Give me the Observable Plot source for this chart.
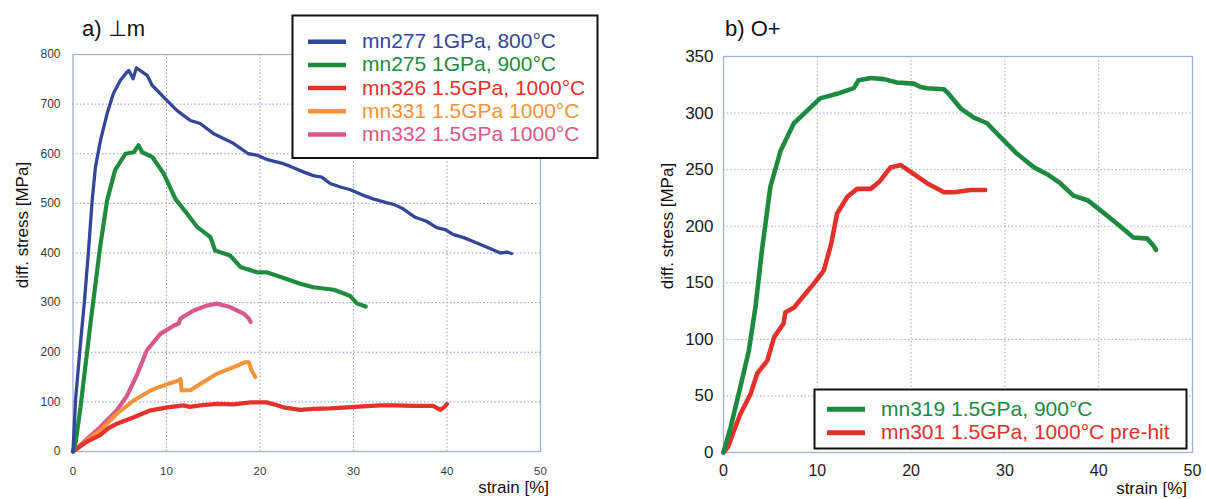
<!DOCTYPE html>
<html><head><meta charset="utf-8">
<script src="https://cdn.jsdelivr.net/npm/d3@7"></script>
<script src="https://cdn.jsdelivr.net/npm/@observablehq/plot@0.6"></script>
<style>
html,body{margin:0;padding:0;background:#fff;}
#wrap{position:relative;width:1206px;height:499px;overflow:hidden;font-family:"Liberation Sans",Arial,sans-serif;}
#wrap > svg{position:absolute;top:0;}
</style></head><body><div id="wrap"></div>
<script>
// ---------- data: panel a) ----------
const xTicksA = [0, 10, 20, 30, 40, 50];
const yTicksA = [0, 100, 200, 300, 400, 500, 600, 700, 800];

const mn277Strain = [0, 0.27, 0.8, 1.23, 1.66, 2.05, 2.4, 2.94, 3.65, 4.33, 5.07, 5.79, 5.96, 6.43, 6.78, 7.93, 8.46, 9.7, 11.13, 12.55, 13.6, 15.0, 17.15, 18.75, 19.7, 20.8, 22.5, 23.2, 24.7, 25.7, 26.6, 27.5, 28.6, 29.6, 31.1, 32.1, 33.6, 34.3, 35.3, 36.6, 37.8, 38.9, 39.8, 40.7, 41.8, 43.2, 44.6, 45.7, 46.4, 46.9];
const mn277Stress = [0, 103, 218, 304, 405, 506, 573, 627, 681, 722, 748, 765, 768, 751, 773, 758, 738, 714, 687, 667, 661, 641, 621, 600, 597, 588, 580, 575, 563, 556, 553, 540, 533, 528, 516, 509, 501, 498, 489, 472, 464, 451, 447, 437, 431, 420, 409, 400, 402, 399];

const mn275Strain = [0, 0.3, 0.8, 1.87, 2.9, 3.65, 4.5, 5.6, 6.5, 7.0, 7.4, 8.5, 9.7, 10.95, 12.2, 13.3, 14.7, 15.2, 16.0, 16.8, 17.9, 19.7, 20.7, 22.3, 24.3, 25.7, 27.9, 29.6, 30.4, 31.3];
const mn275Stress = [0, 20, 89, 258, 412, 506, 567, 600, 603, 617, 603, 593, 560, 509, 479, 452, 432, 405, 400, 395, 372, 361, 361, 351, 338, 331, 326, 314, 298, 292];

const mn326Strain = [0, 1.5, 2.9, 3.8, 4.7, 6.5, 8.3, 10.1, 11.8, 12.5, 13.6, 15.4, 17.2, 19.0, 20.7, 21.5, 22.5, 24.3, 25.7, 27.5, 29.3, 31.0, 32.9, 34.5, 36.4, 38.5, 39.3, 39.8, 40.0];
const mn326Stress = [0, 20, 33, 47, 56, 69, 83, 89, 93, 90, 93, 96, 95, 99, 99, 95, 89, 84, 86, 87, 89, 91, 93, 93, 92, 92, 84, 91, 96];

const mn331Strain = [0, 1.5, 2.9, 4.7, 6.5, 8.3, 10.1, 11.3, 11.5, 11.6, 12.6, 13.6, 15.4, 17.2, 18.4, 18.8, 19.1, 19.5];
const mn331Stress = [0, 22, 42, 76, 103, 123, 136, 143, 146, 123, 124, 136, 157, 170, 180, 180, 163, 150];

const mn332Strain = [0, 1.5, 2.9, 4.7, 5.8, 6.9, 7.9, 9.35, 10.8, 11.3, 11.5, 12.9, 14.3, 15.4, 16.8, 18.25, 18.8, 19.0];
const mn332Stress = [0, 25, 49, 83, 113, 157, 204, 237, 254, 258, 268, 284, 294, 298, 291, 278, 268, 261];

// ---------- data: panel b) ----------
const xTicksB = [0, 10, 20, 30, 40, 50];
const yTicksB = [0, 50, 100, 150, 200, 250, 300, 350];

const mn319Strain = [0, 0.75, 1.8, 2.7, 3.4, 4.1, 5.0, 6.1, 7.5, 8.9, 10.3, 12.1, 13.9, 14.4, 15.7, 17.1, 18.5, 20.3, 21.0, 21.7, 23.5, 23.9, 25.3, 26.7, 28.1, 29.5, 31.3, 33.1, 34.5, 35.9, 37.3, 38.8, 40.2, 42.0, 43.7, 45.2, 45.9, 46.1];
const mn319Stress = [0, 22, 58, 90, 128, 179, 235, 267, 291, 302, 313, 317, 322, 329, 331, 330, 327, 326, 323, 322, 321, 318, 304, 296, 291, 279, 264, 252, 246, 238, 227, 223, 214, 202, 190, 189, 182, 179];

const mn301Strain = [0, 0.5, 1.1, 1.8, 2.9, 3.6, 4.66, 5.4, 6.4, 6.6, 7.5, 8.6, 9.8, 10.7, 11.0, 11.5, 12.1, 13.2, 14.25, 15.7, 16.7, 17.8, 18.9, 20.3, 21.7, 23.5, 24.6, 26.3, 27.9];
const mn301Stress = [0, 5, 19, 34, 52, 70, 81, 102, 114, 124, 128, 139, 151, 161, 170, 185, 211, 226, 233, 233, 240, 252, 254, 246, 238, 230, 230, 232, 232];

const seriesA = ["mn277 1GPa, 800°C", "mn275 1GPa, 900°C", "mn326 1.5GPa, 1000°C", "mn331 1.5GPa 1000°C", "mn332 1.5GPa 1000°C"];
const seriesB = ["mn319 1.5GPa, 900°C", "mn301 1.5GPa, 1000°C pre-hit"];

// ---------- styling ----------
const FONT = '"Liberation Sans", Arial, sans-serif';
const colorsA = ["#33469b", "#1f8b3f", "#e4312b", "#f5923a", "#d9588b"];
const widthsA = [3.3, 4.2, 4.2, 4, 4.2];
const colorsB = ["#1e8a3f", "#e2302a"];
const GRID = "#8e96c6";
const FRAME = "#a7aed6";

const zip = (xs, ys) => xs.map((x, i) => ({strain: x, stress: ys[i]}));
const dataA = [zip(mn277Strain, mn277Stress), zip(mn275Strain, mn275Stress), zip(mn326Strain, mn326Stress), zip(mn331Strain, mn331Stress), zip(mn332Strain, mn332Stress)];
const dataB = [zip(mn319Strain, mn319Stress), zip(mn301Strain, mn301Stress)];

const wrap = document.getElementById("wrap");

const plotA = Plot.plot({
  width: 603, height: 499,
  marginLeft: 72.5, marginRight: 63, marginTop: 54, marginBottom: 48,
  x: {domain: [0, 50]},
  y: {domain: [0, 800]},
  style: {fontFamily: FONT, fontSize: "12px", color: "#3a3a3a", background: "transparent", overflow: "visible"},
  marks: [
    Plot.ruleX(xTicksA.slice(1, -1), {stroke: GRID, strokeDasharray: "1.5,2.2", strokeWidth: 1}),
    Plot.ruleY(yTicksA.slice(1, -1), {stroke: GRID, strokeDasharray: "1.5,2.2", strokeWidth: 1}),
    Plot.frame({stroke: FRAME, strokeWidth: 1.3}),
    Plot.axisX({ticks: xTicksA, tickSize: 0, tickPadding: 15, label: null, fontSize: 11.5}),
    Plot.axisY({ticks: yTicksA, tickSize: 0, tickPadding: 12.5, label: null, fontSize: 12}),
    ...[4, 3, 2, 1, 0].map(i => Plot.line(dataA[i], {x: "strain", y: "stress", stroke: colorsA[i], strokeWidth: widthsA[i], strokeLinejoin: "round", strokeLinecap: "round"}))
  ]
});
plotA.style.left = "0px";
wrap.appendChild(plotA);

const plotB = Plot.plot({
  width: 603, height: 499,
  marginLeft: 120, marginRight: 14, marginTop: 56, marginBottom: 47,
  x: {domain: [0, 50]},
  y: {domain: [0, 350]},
  style: {fontFamily: FONT, fontSize: "16px", color: "#1a1a1a", background: "transparent", overflow: "visible"},
  marks: [
    Plot.ruleX(xTicksB.slice(1, -1), {stroke: GRID, strokeDasharray: "1.5,2.2", strokeWidth: 1, strokeOpacity: 0.85}),
    Plot.ruleY(yTicksB.slice(1, -1), {stroke: GRID, strokeDasharray: "1.5,2.2", strokeWidth: 1, strokeOpacity: 0.85}),
    Plot.frame({stroke: FRAME, strokeWidth: 1.3}),
    Plot.axisX({ticks: xTicksB, tickSize: 0, tickPadding: 12, label: null, fontSize: 16}),
    Plot.axisY({ticks: yTicksB, tickSize: 0, tickPadding: 10, label: null, fontSize: 17}),
    ...[1, 0].map(i => Plot.line(dataB[i], {x: "strain", y: "stress", stroke: colorsB[i], strokeWidth: 4.6, strokeLinejoin: "round", strokeLinecap: "round"}))
  ]
});
plotB.style.left = "603px";
wrap.appendChild(plotB);

// ---------- overlay: titles, axis labels, legends ----------
const ov = d3.select(wrap).append("svg")
  .attr("width", 1206).attr("height", 499)
  .style("left", "0px").style("pointer-events", "none")
  .style("font-family", FONT);

function txt(x, y, s, opts = {}) {
  const t = ov.append("text").attr("x", x).attr("y", y).text(s)
    .attr("font-size", opts.size || 17).attr("fill", opts.fill || "#111");
  if (opts.anchor) t.attr("text-anchor", opts.anchor);
  if (opts.rotate) t.attr("transform", `rotate(-90 ${x} ${y})`).attr("dominant-baseline", "central");
  return t;
}
txt(82, 36, "a) ⊥m", {size: 22});
txt(725, 36, "b) O+", {size: 22});
txt(22, 225, "diff. stress [MPa]", {size: 17, anchor: "middle", rotate: true});
txt(667, 226, "diff. stress [MPa]", {size: 17, anchor: "middle", rotate: true});
txt(549, 493, "strain [%]", {size: 17, anchor: "end"});
txt(1187, 494, "strain [%]", {size: 17, anchor: "end"});

// legend a
ov.append("rect").attr("x", 292.5).attr("y", 15.5).attr("width", 305).attr("height", 142.5)
  .attr("fill", "#fff").attr("stroke", "#111").attr("stroke-width", 2);
seriesA.forEach((name, i) => {
  const y = 41.7 + i * 23.2;
  ov.append("line").attr("x1", 308).attr("x2", 346).attr("y1", y).attr("y2", y)
    .attr("stroke", colorsA[i]).attr("stroke-width", 4.5);
  txt(362, y + 6.5, name, {size: 21, fill: colorsA[i]});
});

// legend b
ov.append("rect").attr("x", 814.5).attr("y", 389.5).attr("width", 372).attr("height", 59)
  .attr("fill", "#fff").attr("stroke", "#111").attr("stroke-width", 2);
seriesB.forEach((name, i) => {
  const y = 409.3 + i * 23.4;
  ov.append("line").attr("x1", 827).attr("x2", 865).attr("y1", y).attr("y2", y)
    .attr("stroke", colorsB[i]).attr("stroke-width", 5);
  txt(881, y + 6.5, name, {size: 21, fill: colorsB[i]});
});
</script></body></html>
